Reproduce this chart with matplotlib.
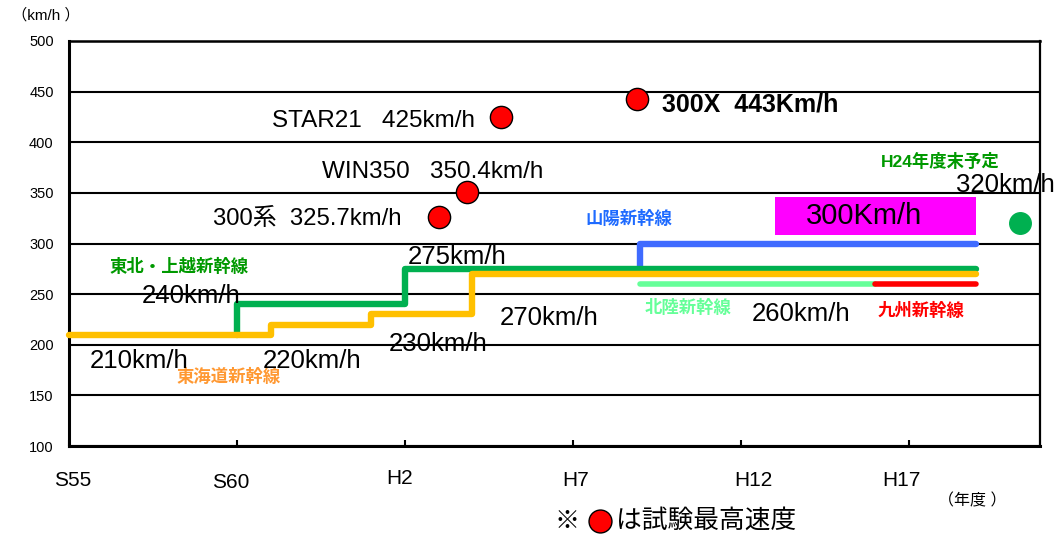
import matplotlib
matplotlib.use("Agg")
import matplotlib.pyplot as plt
from matplotlib.patches import Rectangle
from matplotlib.transforms import ScaledTranslation

plt.rcParams['font.family'] = ['Liberation Sans', 'Noto Sans CJK JP', 'DejaVu Sans']

# ---- data ----
tick_years = [1980, 1985, 1990, 1995, 2000, 2005]
tick_labels = ['S55', 'S60', 'H2', 'H7', 'H12', 'H17']
y_ticks = [100, 150, 200, 250, 300, 350, 400, 450, 500]

tokaido_years = [1980, 1986, 1989, 1992, 2007]
tokaido_speed = [210, 220, 230, 270, 270]

tohoku_years = [1985, 1985, 1990, 2007]
tohoku_speed = [210, 240, 275, 275]

sanyo_years = [1997, 1997, 2007]
sanyo_speed = [275, 300, 300]

hokuriku_years = [1997, 2004]
hokuriku_speed = [260, 260]

kyushu_years = [2004, 2007]
kyushu_speed = [260, 260]

test_years = [1991, 1991.85, 1992.85, 1996.9]
test_speed = [325.7, 350.4, 425, 443]

plan_year = [2008.3]
plan_speed = [320]

# ---- figure ----
fig = plt.figure(figsize=(10.55, 5.36), dpi=100)
ax = fig.add_axes([69/1055, 1-446/536, (1040-69)/1055, (446-41)/536])
ax.set_xlim(1980, 2008.9)
ax.set_ylim(100, 500)

ax.set_yticks(y_ticks)
ax.set_yticklabels([str(v) for v in y_ticks], fontsize=10.5)
ax.tick_params(axis='y', length=0, pad=11)
ax.set_xticks(tick_years)
ax.set_xticklabels(tick_labels, fontsize=15)
ax.tick_params(axis='x', direction='in', length=4, width=1.5, pad=18)
label_dx = [4, -6, -5, 3, 12, -8]
label_dy = [0, 2, -2, 0, 0, 0]
for lab, dx, dy in zip(ax.get_xticklabels(), label_dx, label_dy):
    lab.set_transform(lab.get_transform() + ScaledTranslation(dx/100, -dy/100, fig.dpi_scale_trans))
ax.yaxis.grid(True, color='black', linewidth=1.5)
ax.set_axisbelow(True)
for s in ['left', 'bottom']:
    ax.spines[s].set_linewidth(2.2)
ax.spines['top'].set_linewidth(1.8)
ax.spines['right'].set_linewidth(1.6)

lw = 4.6
ax.plot(sanyo_years, sanyo_speed, drawstyle='steps-post', color='#3F6BFF', lw=lw,
        solid_capstyle='round', zorder=3)
ax.plot(tohoku_years, tohoku_speed, drawstyle='steps-post', color='#00B050', lw=lw,
        solid_capstyle='round', zorder=4)
ax.plot(tokaido_years, tokaido_speed, drawstyle='steps-post', color='#FFC000', lw=lw,
        solid_capstyle='round', zorder=5, clip_on=False)
ax.plot(hokuriku_years, hokuriku_speed, color='#66FF99', lw=4, solid_capstyle='round', zorder=4)
ax.plot(kyushu_years, kyushu_speed, color='#FF0000', lw=4, solid_capstyle='round', zorder=4)

ax.plot(test_years, test_speed, 'o', color='#FF0000', markeredgecolor='black',
        markeredgewidth=1.0, markersize=16, zorder=6, linestyle='none')
ax.plot(plan_year, plan_speed, 'o', color='#00B050', markeredgecolor='#00B050',
        markersize=15.5, zorder=6, clip_on=False, linestyle='none')

# magenta box
ax.add_patch(Rectangle((2001, 308.5), 6.0, 37.5, facecolor='#FF00FF', edgecolor='none', zorder=2))
ax.text(2003.66, 327.2, '300Km/h', fontsize=21, ha='center', va='center', zorder=7)

num_fs = 18.5
texts = [
    (1990.09, 286.7, '275km/h'),
    (1992.83, 226.4, '270km/h'),
    (1982.17, 248.6, '240km/h'),
    (1980.63, 184.0, '210km/h'),
    (1985.77, 184.0, '220km/h'),
    (1989.52, 201.0, '230km/h'),
    (2000.33, 230.4, '260km/h'),
]
for x, y, t in texts:
    ax.text(x, y, t, fontsize=num_fs, ha='left', va='center', zorder=7)
ax.text(2008.9 + 15/33.6, 357.8, '320km/h', fontsize=num_fs, ha='right', va='center',
        zorder=7, clip_on=False)

ax.text(1986.04, 421.0, 'STAR21   425km/h', fontsize=17.5, ha='left', va='center')
ax.text(1987.53, 370.6, 'WIN350   350.4km/h', fontsize=17.5, ha='left', va='center')
ax.text(1984.29, 324.2, '300系  325.7km/h', fontsize=17.2, ha='left', va='center')
ax.text(1997.65, 436.8, '300X  443Km/h', fontsize=18, fontweight='bold', ha='left', va='center')

jp = ['Noto Sans CJK JP', 'DejaVu Sans']
jfs = 12.5
ax.text(1981.22, 276.8, '東北・上越新幹線', color='#009900', fontsize=jfs, fontweight='bold',
        family=jp, ha='left', va='center')
ax.text(1983.21, 168.1, '東海道新幹線', color='#FF9933', fontsize=jfs, fontweight='bold',
        family=jp, ha='left', va='center')
ax.text(1995.36, 324.2, '山陽新幹線', color='#1F6BFF', fontsize=jfs, fontweight='bold',
        family=jp, ha='left', va='center')
ax.text(1997.14, 236.3, '北陸新幹線', color='#66FF99', fontsize=jfs, fontweight='bold',
        family=jp, ha='left', va='center')
ax.text(2004.08, 233.3, '九州新幹線', color='#FF0000', fontsize=jfs, fontweight='bold',
        family=jp, ha='left', va='center')
ax.text(2004.17, 380.5, 'H24年度末予定', color='#009900', fontsize=jfs, fontweight='bold',
        family=['Liberation Sans', 'Noto Sans CJK JP'], ha='left', va='center')

# units and note
fig.text(12/1055, 1-15/536, '（km/h ）', fontsize=11, ha='left', va='center')
fig.text(938/1055, 1-501/536, '（年度 ）', fontsize=11.5, ha='left', va='center')
fig.text(555/1055, 1-521/536, '※', fontsize=18, ha='left', va='center',
         family=['Noto Sans CJK JP'])
fig.add_artist(plt.Line2D([600/1055], [1-521/536], marker='o', color='#FF0000',
                          markeredgecolor='black', markeredgewidth=1.0, markersize=16.5,
                          linestyle='none', transform=fig.transFigure))
fig.text(616/1055, 1-521/536, 'は試験最高速度', fontsize=18.5, ha='left', va='center',
         family=['Noto Sans CJK JP'])

fig.savefig('out.png', dpi=100)
